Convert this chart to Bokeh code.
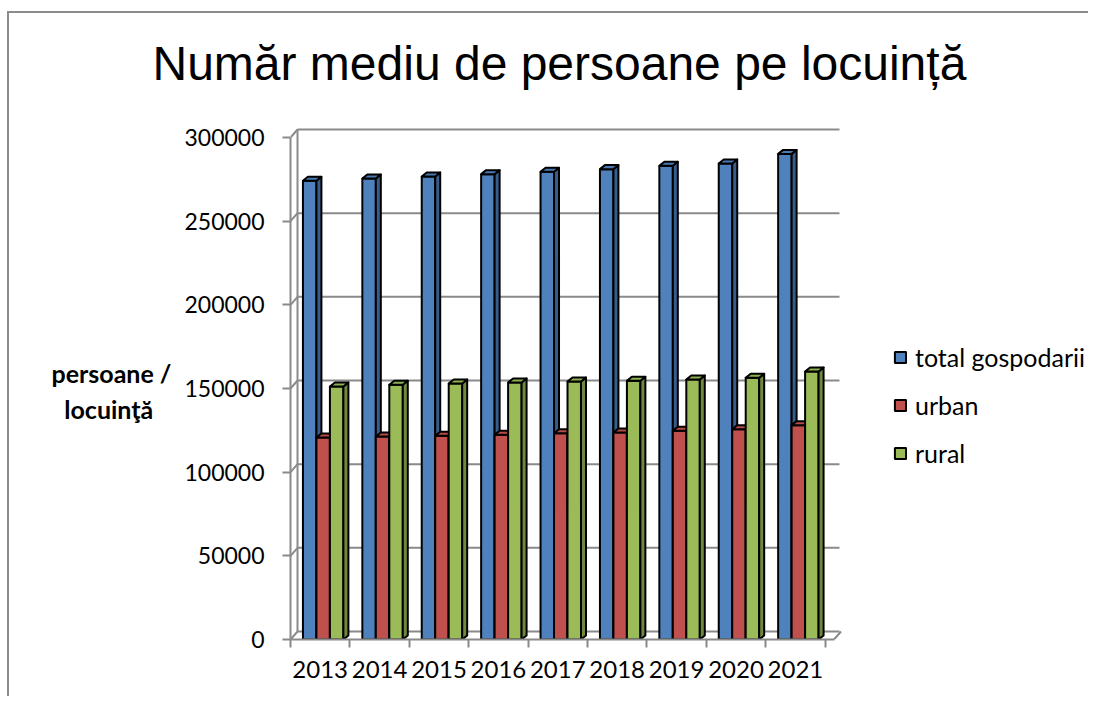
from bokeh.plotting import figure
from bokeh.models import (ColumnDataSource, FixedTicker, Legend, LegendItem, Range1d,
                          BasicTickFormatter, LinearAxis)
from bokeh.transform import dodge
from bokeh.embed import file_html
from bokeh.resources import INLINE

# ---------------- data ----------------
years = ["2013", "2014", "2015", "2016", "2017", "2018", "2019", "2020", "2021"]
total_gospodarii = [274100, 275500, 276700, 278100, 279500, 281100, 283100, 284500, 290200]
urban = [120700, 121300, 121700, 122300, 123300, 123700, 124700, 125700, 128100]
rural = [151200, 152200, 153000, 153600, 154200, 154600, 155400, 156400, 160200]
series_labels = ["total gospodarii", "urban", "rural"]
y_ticks = [0, 50000, 100000, 150000, 200000, 250000, 300000]
title_text = "Număr mediu de persoane pe locuință"
y_label = "persoane /\nlocuinţă\u00a0\u00a0\u00a0"

# ---------------- style / layout ----------------
GRAY = "#8a8a8a"
FONT = "Lato"
W, H = 1081, 685
LEFT, TOP, BOTTOM = 281, 82, 59
FRAME_H = H - BOTTOM - TOP
PX_PER_UNIT = 59.4                    # px per category
PX_PER_VAL = 502 / 300000             # px per data unit
X0 = -0.5
X_MAX = X0 + (W - LEFT) / PX_PER_UNIT
Y_MAX = FRAME_H / PX_PER_VAL
BW = 0.227                 # bar width in category units
OFFS = [-0.177, 0.05, 0.277]
DDX, DDY = 0.084, 2400     # bar depth
WX, WY = 0.118, 4800       # wall depth
X_END = 8.742              # back wall right end
FLOOR_END = 8.65
YLABEL_POS = 148800
fronts = ["#4f81bd", "#c0504d", "#9bbb59"]
sides = ["#385d8a", "#8c3836", "#71893f"]
tops = ["#4a79b3", "#b54a47", "#8fb050"]

n = len(years)
xs = list(range(n))
src = ColumnDataSource(dict(x=xs, total=total_gospodarii, urban=urban, rural=rural))

p = figure(width=W, height=H, output_backend="svg", toolbar_location=None,
           x_range=Range1d(X0, X_MAX), y_range=Range1d(0, Y_MAX),
           min_border_left=LEFT, min_border_right=0,
           min_border_top=TOP, min_border_bottom=BOTTOM, title=title_text)
p.styles = {"border-left": "2px solid #8c8c8c", "border-top": "2px solid #8c8c8c",
            "margin-top": "11px", "margin-left": "7px"}
p.outline_line_color = None
p.xgrid.visible = False
p.ygrid.visible = False
p.background_fill_color = "white"
p.border_fill_color = "white"

p.title.text_font = "Liberation Sans"
p.title.text_font_size = "48px"
p.title.text_font_style = "normal"
p.title.text_color = "black"
p.title.align = "left"
p.title.offset = -138
p.title.standoff = 12

# x axis
xa = p.xaxis[0]
xa.ticker = FixedTicker(ticks=xs, minor_ticks=[i - 0.5 for i in range(n + 1)])
xa.major_label_overrides = {i: y for i, y in enumerate(years)}
xa.major_tick_line_color = None
xa.minor_tick_out = 8
xa.minor_tick_in = 0
xa.minor_tick_line_color = GRAY
xa.minor_tick_line_width = 2
xa.axis_line_color = GRAY
xa.axis_line_width = 2
xa.bounds = (X0, FLOOR_END)
xa.major_label_text_font = FONT
xa.major_label_text_font_size = "24px"
xa.major_label_text_color = "black"
xa.major_label_standoff = 13

# y axis
ya = p.yaxis[0]
ya.ticker = FixedTicker(ticks=y_ticks, minor_ticks=[])
ya.formatter = BasicTickFormatter(use_scientific=False)
ya.major_tick_out = 8
ya.major_tick_in = 0
ya.major_tick_line_color = GRAY
ya.major_tick_line_width = 2
ya.axis_line_color = GRAY
ya.axis_line_width = 2
ya.bounds = (0, y_ticks[-1])
ya.major_label_text_font = FONT
ya.major_label_text_font_size = "23px"
ya.major_label_text_color = "black"
ya.major_label_standoff = 18

# y axis title (as the single label of an outer, line-less axis)
ya2 = LinearAxis(ticker=FixedTicker(ticks=[YLABEL_POS], minor_ticks=[]),
                 major_label_overrides={YLABEL_POS: y_label},
                 axis_line_color=None, major_tick_line_color=None,
                 minor_tick_line_color=None, major_tick_out=0, major_tick_in=0,
                 major_label_standoff=10, major_label_text_font=FONT,
                 major_label_text_font_style="bold", major_label_text_font_size="25px",
                 major_label_text_color="black")
p.add_layout(ya2, "left")

# back wall gridlines and connectors
m = len(y_ticks)
p.segment(x0=[X0 + WX] * m, y0=[t + WY for t in y_ticks], x1=[X_END] * m,
          y1=[t + WY for t in y_ticks], line_color=GRAY, line_width=2)
p.segment(x0=[X0] * m, y0=y_ticks, x1=[X0 + WX] * m, y1=[t + WY for t in y_ticks],
          line_color=GRAY, line_width=2)
p.segment(x0=[X0 + WX], y0=[WY], x1=[X0 + WX], y1=[y_ticks[-1] + WY],
          line_color=GRAY, line_width=2)
p.segment(x0=[FLOOR_END], y0=[0], x1=[FLOOR_END + WX], y1=[WY], line_color=GRAY, line_width=2)

renderers = []
for k, (col, vals) in enumerate([("total", total_gospodarii), ("urban", urban), ("rural", rural)]):
    off = OFFS[k]
    r = p.vbar(x=dodge("x", off, range=p.x_range), top=col, width=BW, bottom=0, source=src,
               fill_color=fronts[k], line_color="black", line_width=2)
    renderers.append(r)
    txs, tys, sxs, sys_ = [], [], [], []
    for i, v in enumerate(vals):
        x0 = i + off - BW / 2
        x1 = x0 + BW
        txs.append([x0, x1, x1 + DDX, x0 + DDX])
        tys.append([v, v, v + DDY, v + DDY])
        sxs.append([x1, x1 + DDX, x1 + DDX, x1])
        sys_.append([0, DDY, v + DDY, v])
    p.patches(sxs, sys_, fill_color=sides[k], line_color="black", line_width=2,
              line_join="round")
    p.patches(txs, tys, fill_color=tops[k], line_color="black", line_width=2,
              line_join="round")

legend = Legend(items=[LegendItem(label=series_labels[k], renderers=[renderers[k]])
                       for k in range(3)],
                location=(603, 171), orientation="vertical",
                background_fill_alpha=0, border_line_color=None, padding=0, margin=0,
                spacing=18, label_height=28, glyph_height=14, glyph_width=14,
                label_standoff=8, label_text_font=FONT, label_text_font_size="25px",
                label_text_color="black")
p.add_layout(legend)

open("out.html", "w").write(file_html(p, INLINE))
